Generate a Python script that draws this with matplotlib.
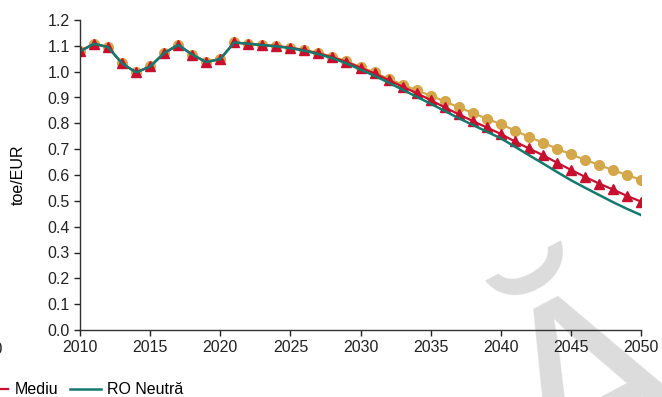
import matplotlib
matplotlib.use("Agg")
import matplotlib.pyplot as plt

plt.rcParams['font.family'] = ['Liberation Sans', 'DejaVu Sans']

# date
ani = list(range(2010, 2051))
istoric = [1.079, 1.108, 1.095, 1.032, 0.997, 1.020, 1.072, 1.104, 1.066, 1.037, 1.049, 1.113]

ridicat = istoric + [1.108, 1.103, 1.099, 1.093, 1.084, 1.072, 1.058, 1.040, 1.018, 0.997,
                     0.972, 0.950, 0.928, 0.907, 0.885, 0.862, 0.840, 0.818, 0.797, 0.772,
                     0.748, 0.725, 0.702, 0.680, 0.659, 0.639, 0.619, 0.600, 0.581]
mediu = istoric + [1.108, 1.103, 1.099, 1.093, 1.083, 1.071, 1.056, 1.038, 1.015, 0.993,
                   0.967, 0.942, 0.917, 0.890, 0.862, 0.835, 0.809, 0.784, 0.759, 0.730,
                   0.703, 0.677, 0.648, 0.620, 0.593, 0.567, 0.544, 0.519, 0.497]
ro_neutra = istoric + [1.108, 1.103, 1.098, 1.091, 1.081, 1.068, 1.052, 1.032, 1.008, 0.984,
                       0.958, 0.930, 0.903, 0.876, 0.848, 0.820, 0.794, 0.768, 0.742, 0.710,
                       0.677, 0.645, 0.612, 0.580, 0.551, 0.523, 0.495, 0.469, 0.445]

ticks_x = [2010, 2015, 2020, 2025, 2030, 2035, 2040, 2045, 2050]
ticks_y = [0.0, 0.1, 0.2, 0.3, 0.4, 0.5, 0.6, 0.7, 0.8, 0.9, 1.0, 1.1, 1.2]

c_gold = '#D4A74B'
c_rosu = '#C8102E'
c_teal = '#137A6E'
fs = 11.5

W, H = 662, 397
fig = plt.figure(figsize=(W / 100, H / 100), dpi=100)
ax = fig.add_axes([80 / W, 1 - 330 / H, (641 - 80) / W, (330 - 20) / H])

# watermark (doar litera vizibila), sub axe
fig.text(598 / W, 1 - 403 / H, 'Ă', fontsize=190, color='#dcdcdc', rotation=28,
         ha='center', va='center', zorder=-5)
ax.patch.set_alpha(0)

ax.plot(ani, ridicat, color=c_gold, lw=1.6, marker='o', ms=7, mec=c_gold, mfc=c_gold)
l_mediu, = ax.plot(ani, mediu, color=c_rosu, lw=1.6, marker='^', ms=7, mec=c_rosu, mfc=c_rosu,
                   label='Mediu')
l_ro, = ax.plot(ani, ro_neutra, color=c_teal, lw=1.8, label='RO Neutră')

ax.set_xlim(2010, 2050)
ax.set_ylim(0, 1.2)
ax.set_xticks(ticks_x)
ax.set_yticks(ticks_y)
ax.set_yticklabels([f'{v:.1f}' for v in ticks_y])
ax.tick_params(labelsize=fs, direction='out', length=4, width=1, colors='#222222')
for s in ['top', 'right']:
    ax.spines[s].set_visible(False)
for s in ['left', 'bottom']:
    ax.spines[s].set_color('#333333')
    ax.spines[s].set_linewidth(1)
ax.set_ylabel('toe/EUR', fontsize=fs)
ax.yaxis.set_label_coords(-(80 - 26) / (641 - 80), 0.5)

# eticheta taiata din graficul vecin
fig.text(3 / W, 1 - 349 / H, '2050', fontsize=fs, ha='right', va='center', color='#222222')

fig.legend(handles=[l_mediu, l_ro], loc='center left', bbox_to_anchor=(-22 / W, 7 / H),
           ncol=2, frameon=False, fontsize=fs, handlelength=1.9, handletextpad=0.4,
           columnspacing=0.75, borderpad=0, borderaxespad=0, markerscale=0)

fig.savefig('out.png', dpi=100)
